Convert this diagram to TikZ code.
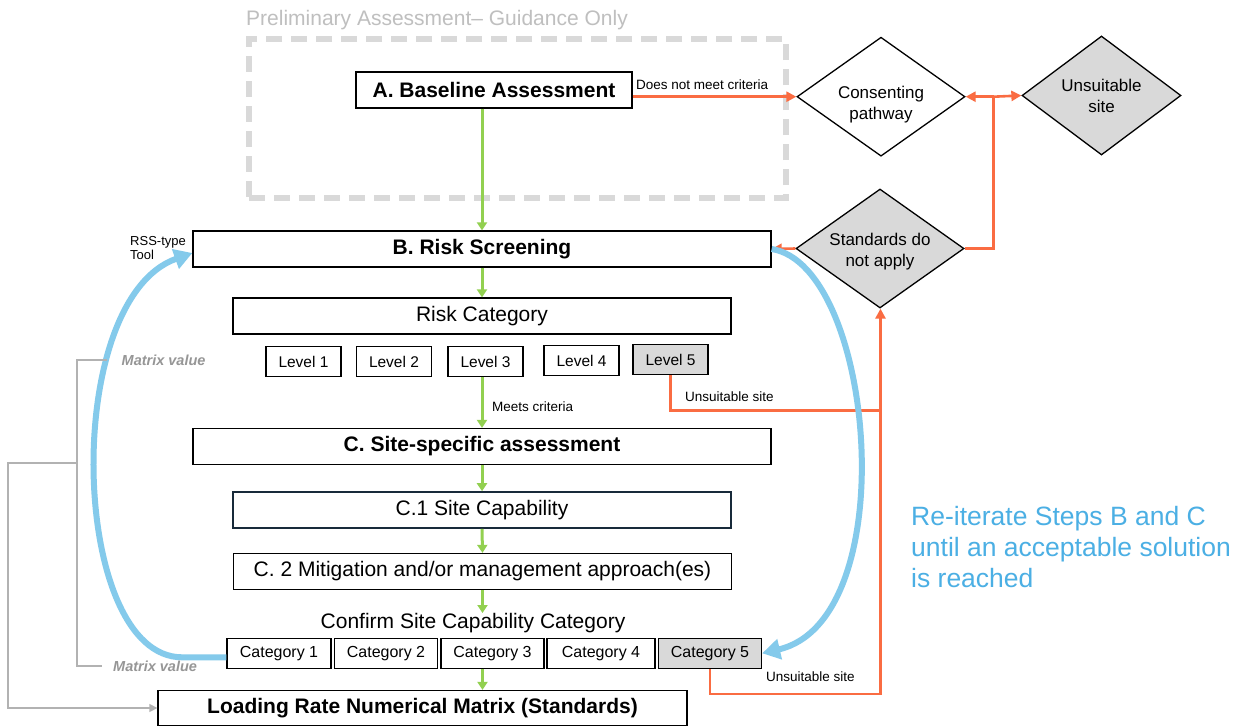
\documentclass[tikz,border=0pt]{standalone}
\usepackage{fontspec}
\setmainfont{Liberation Sans}
\usepackage{xcolor}
\usetikzlibrary{arrows.meta,positioning,shapes.geometric}

\definecolor{flowgreen}{RGB}{146,208,80}
\definecolor{flowred}{RGB}{250,108,66}
\definecolor{loopblue}{RGB}{132,202,235}
\definecolor{noteblue}{RGB}{75,175,228}
\definecolor{softgray}{RGB}{217,217,217}
\definecolor{titlegray}{RGB}{191,191,191}
\definecolor{linegray}{RGB}{178,178,178}
\definecolor{mvgray}{RGB}{150,150,150}
\definecolor{navy}{RGB}{24,42,58}

% two-line text set a little lower inside a decision
\newcommand{\dropby}[2]{\raisebox{-#1}[\height][\depth]{\begin{tabular}{@{}c@{}}#2\end{tabular}}}

\begin{document}
\begin{tikzpicture}[
      x=1pt, y=-1pt,
      font=\fontsize{21}{25}\selectfont,
      % boxes of the main flow
      box/.style={
        draw=black,
        line width=1.3pt,
        fill=white,
        inner sep=0pt,
        align=center,
        minimum height=36pt
      },
      stepbox/.style={box, minimum width=578pt, font=\bfseries\fontsize{21}{25}\selectfont},
      subbox/.style={box, minimum width=498pt},
      lvlbox/.style={box, minimum width=75pt, minimum height=30pt, font=\fontsize{15.5}{18}\selectfont},
      catbox/.style={box, minimum width=103pt, minimum height=30pt, font=\fontsize{16}{18}\selectfont},
      greyfill/.style={fill=softgray},
      decision/.style={
        diamond,
        aspect=1.41,
        draw=black,
        line width=1.3pt,
        fill=white,
        inner sep=0pt,
        align=center,
        minimum width=168pt,
        minimum height=119pt,
        font=\fontsize{17}{21}\selectfont
      },
      prelim/.style={draw=softgray, line width=6pt, dash pattern=on 16pt off 9pt, inner sep=0pt},
      lbl/.style={inner sep=0pt, font=\fontsize{13.5}{15}\selectfont},
      mvlbl/.style={inner sep=0pt, text=mvgray, font=\bfseries\itshape\fontsize{14.5}{16}\selectfont},
      % connectors
      greenarrow/.style={-{Triangle[length=8pt,width=10pt]}, line width=3pt, draw=flowgreen},
      redline/.style={line width=2.6pt, draw=flowred},
      redarrow/.style={redline, -{Triangle[length=10pt,width=10pt]}},
      bluearrow/.style={-{Triangle[length=18pt,width=20pt]}, line width=6pt, draw=loopblue},
      grayline/.style={line width=1.3pt, draw=linegray},
      grayarrow/.style={grayline, -{Triangle[length=8pt,width=8pt]}}
    ]
    \useasboundingbox[fill=white] (0,0) rectangle (1243,726);

    % Preliminary stage in a dashed frame
    \node[prelim, minimum width=537pt, minimum height=159pt] (frame) at (517.5,118.5) {};
    \node[inner sep=0pt, anchor=west, text=titlegray] (frametitle) at (246,20) {Preliminary Assessment– Guidance Only};
    \node[stepbox, minimum width=276pt] (a) at (494,90) {A. Baseline Assessment};

    % Decisions on the right
    \node[decision] (consent) at (881,96.7) {\dropby{8pt}{Consenting\\pathway}};
    \node[decision, greyfill, minimum width=159pt] (unsuit) at (1101.5,95.5) {\dropby{2pt}{Unsuitable\\site}};
    \node[decision, greyfill] (std) at (880,248.5) {\dropby{3pt}{Standards do\\not apply}};

    % Risk screening and its levels
    \node[stepbox] (b) at (482,249) {B. Risk Screening};
    \node[lbl, anchor=west, align=left, font=\fontsize{13}{14.5}\selectfont] (rss) at (130,248) {RSS-type\\Tool};
    \node[subbox] (riskcat) at (482,316) {Risk Category};
    \node[lvlbox] (lvl1) at (303.5,361.5) {Level 1};
    \node[lvlbox] (lvl2) at (394,361.5) {Level 2};
    \node[lvlbox] (lvl3) at (485.5,361.5) {Level 3};
    \node[lvlbox] (lvl4) at (581.5,360.5) {Level 4};
    \node[lvlbox, greyfill] (lvl5) at (670.5,359.5) {Level 5};

    % Site-specific assessment
    \node[stepbox] (c) at (482,446.5) {C. Site-specific assessment};
    \node[subbox, draw=navy, line width=1.6pt] (c1) at (482,510) {C.1 Site Capability};
    \node[subbox] (c2) at (482.5,571.5) {C. 2 Mitigation and/or management approach(es)};
    \node[inner sep=0pt] (confirm) at (473,623) {Confirm Site Capability Category};
    \node[catbox, minimum width=104pt] (cat1) at (279,653.3) {Category 1};
    \node[catbox] (cat2) at (386,653.3) {Category 2};
    \node[catbox] (cat3) at (492.5,653.3) {Category 3};
    \node[catbox, minimum width=108pt] (cat4) at (601,653.3) {Category 4};
    \node[catbox, greyfill] (cat5) at (710,653.3) {Category 5};
    \node[stepbox, minimum width=529pt, minimum height=35pt] (load) at (422.5,708) {Loading Rate Numerical Matrix (Standards)};

    % Small labels
    \node[lbl, anchor=west] (dnm) at (636,85) {Does not meet criteria};
    \node[lbl, anchor=west] (meets) at (492,406.7) {Meets criteria};
    \node[lbl, anchor=west] (unsuitlvl) at (685,396.7) {Unsuitable site};
    \node[lbl, anchor=west] (unsuitcat) at (766,676.7) {Unsuitable site};
    \node[mvlbl, anchor=west] (mvtop) at (121.5,360) {Matrix value};
    \node[mvlbl, anchor=west] (mvbot) at (113,666) {Matrix value};
    \node[inner sep=0pt, anchor=north west, align=left, text=noteblue, font=\fontsize{26.5}{31}\selectfont] (reiterate) at (911,506.5) {Re-iterate Steps B and C\\until an acceptable solution\\is reached};

    \coordinate (fork) at (993.5,96.7);
    \coordinate (lvljoin) at (880.5,410.5);
    \coordinate (catjoin) at (880.5,694);
    \coordinate (mvjoin) at (77,463);

    % Main flow
    \draw[greenarrow] (a.south -| b.north) -- (b.north);
    \draw[greenarrow] (b.south) -- (riskcat.north);
    \draw[greenarrow] (lvl3.south -| c.north) -- (c.north);
    \draw[greenarrow] (c.south) -- (c1.north);
    \draw[greenarrow] (c1.south) -- (c2.north);
    \draw[greenarrow] (c2.south) -- (confirm.north -| c2.south);
    \draw[greenarrow] (cat3.south -| c2.south) -- (load.north -| c2.south);

    % Exits to the decisions
    \draw[redarrow] (a.east |- consent.west) -- (consent.west);
    \draw[redline] (std.east) -| (fork);
    \draw[redarrow] (fork) -- (consent.east);
    \draw[redarrow] (fork) -- (unsuit.west);
    \draw[redarrow] (std.west) -- (b.east);
    \draw[redline] (lvl5.south) |- (lvljoin);
    \draw[redarrow] (cat5.south) |- (catjoin) -- (catjoin |- std.south);

    % Re-iteration loops
    \draw[bluearrow] ([yshift=-4pt]cat1.west) -- ++(-44,0) .. controls (70,657.7) and (60,300) .. ([yshift=-4pt]b.west);
    \draw[bluearrow] (b.east) .. controls (875,265) and (905,620) .. (cat5.east);

    % Matrix values fed to the standards
    \draw[grayline] ([xshift=-15pt]mvtop.west) -| (mvjoin) |- ([xshift=-11pt]mvbot.west);
    \draw[grayarrow] (mvjoin) -- ++(-69,0) |- (load.west);
  \end{tikzpicture}
\end{document}
